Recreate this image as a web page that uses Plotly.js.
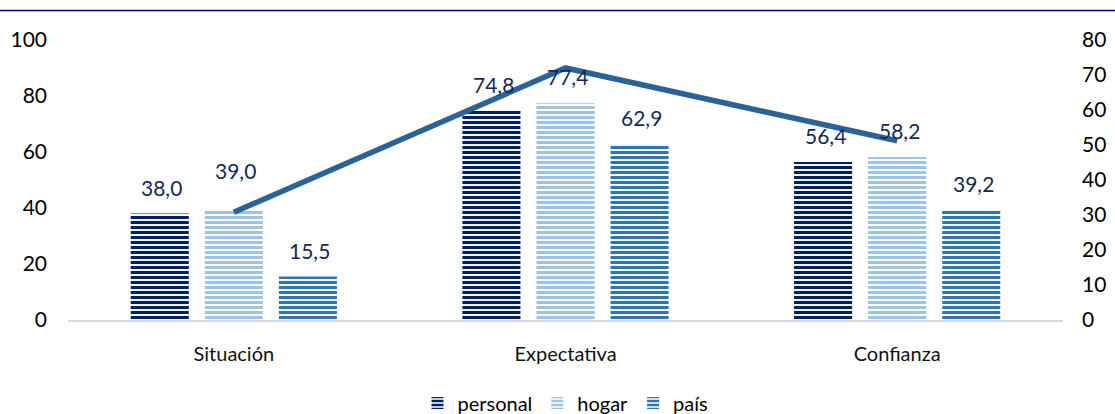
<!DOCTYPE html>
<html>
<head>
<meta charset="utf-8">
<script src="https://cdn.plot.ly/plotly-3.0.1.min.js"></script>
<style>
  html, body { margin: 0; padding: 0; background: #fff; }
  #chart { width: 1115px; height: 414px; }
</style>
</head>
<body>
<div id="chart"></div>
<script>
// ---- data ----
const categories = ["Situación", "Expectativa", "Confianza"];
const personal = [38.0, 74.8, 56.4];
const hogar = [39.0, 77.4, 58.2];
const pais = [15.5, 62.9, 39.2];
const indice = [30.8, 72.0, 51.2];   // line, right axis
const seriesNames = ["personal", "hogar", "país"];
const leftTicks = [0, 20, 40, 60, 80, 100];
const rightTicks = [0, 10, 20, 30, 40, 50, 60, 70, 80];

// ---- styles ----
const FONT = "Lato, 'Open Sans', sans-serif";
const colors = ["#002060", "#9dc3e6", "#2e75b6"];
const labelColor = "#14285a";
const barSeries = [personal, hogar, pais];

const traces = barSeries.map((vals, i) => ({
  type: "bar",
  name: seriesNames[i],
  x: categories,
  y: vals,
  marker: {
    color: colors[i],
    line: { width: 0 },
    pattern: { shape: "-", fgcolor: colors[i], bgcolor: "#ffffff", size: 5, solidity: 0.62, fillmode: "replace" }
  },
  hoverinfo: "skip"
}));

traces.push({
  type: "scatter",
  mode: "lines",
  x: categories,
  y: indice,
  yaxis: "y2",
  line: { color: "#2a6399", width: 5.5 },
  showlegend: false,
  hoverinfo: "skip"
});

// data labels above bars
const bargap = 0.33, bargroupgap = 0.216;
const slot = (1 - bargap) / 3;
const extraShift = { "1-0": 14 };  // nudge for the label the line would overlap
const annotations = [];
barSeries.forEach((vals, s) => {
  vals.forEach((v, c) => {
    annotations.push({
      x: c + (s - 1) * slot,
      y: v,
      xref: "x",
      yref: "y",
      text: v.toFixed(1).replace(".", ","),
      showarrow: false,
      yanchor: "bottom",
      xanchor: "center",
      yshift: 12 + (extraShift[s + "-" + c] || 0),
      xshift: 2,
      font: { family: FONT, size: 21, color: labelColor }
    });
  });
});

const W = 1115, mL = 68, mR = 52;
const plotW = W - mL - mR;

const layout = {
  width: 1115,
  height: 414,
  margin: { l: mL, r: mR, t: 40, b: 94, autoexpand: false },
  paper_bgcolor: "#ffffff",
  plot_bgcolor: "#ffffff",
  barmode: "group",
  bargap: bargap,
  bargroupgap: bargroupgap,
  separators: ",.",
  font: { family: FONT, color: "#000000" },
  xaxis: {
    type: "category",
    showgrid: false,
    zeroline: false,
    showline: true,
    linecolor: "#d9d9d9",
    linewidth: 2,
    ticks: "",
    ticklabelstandoff: 15,
    tickfont: { family: FONT, size: 20, color: "#111111" },
    fixedrange: true
  },
  yaxis: {
    range: [0, 100],
    tickvals: leftTicks,
    showgrid: false,
    zeroline: false,
    showline: false,
    ticks: "",
    ticklabelstandoff: 20,
    tickfont: { family: FONT, size: 21, color: "#000000" },
    fixedrange: true
  },
  yaxis2: {
    range: [0, 80],
    tickvals: rightTicks,
    overlaying: "y",
    side: "right",
    showgrid: false,
    zeroline: false,
    showline: false,
    ticks: "",
    ticklabelstandoff: 18,
    tickfont: { family: FONT, size: 21, color: "#000000" },
    fixedrange: true
  },
  legend: {
    orientation: "h",
    x: 0.5,
    xanchor: "center",
    yref: "container",
    y: 11 / 414,
    yanchor: "middle",
    font: { family: FONT, size: 20, color: "#000000" },
    itemwidth: 30,
    traceorder: "normal"
  },
  shapes: [{
    type: "line",
    xref: "paper",
    yref: "paper",
    x0: -mL / plotW,
    x1: (W - mL) / plotW,
    y0: 1 + 29.5 / 280,
    y1: 1 + 29.5 / 280,
    line: { color: "#000080", width: 1.5 }
  }],
  annotations: annotations,
  showlegend: true
};

Plotly.newPlot("chart", traces, layout, { displayModeBar: false, staticPlot: true });
</script>
</body>
</html>
